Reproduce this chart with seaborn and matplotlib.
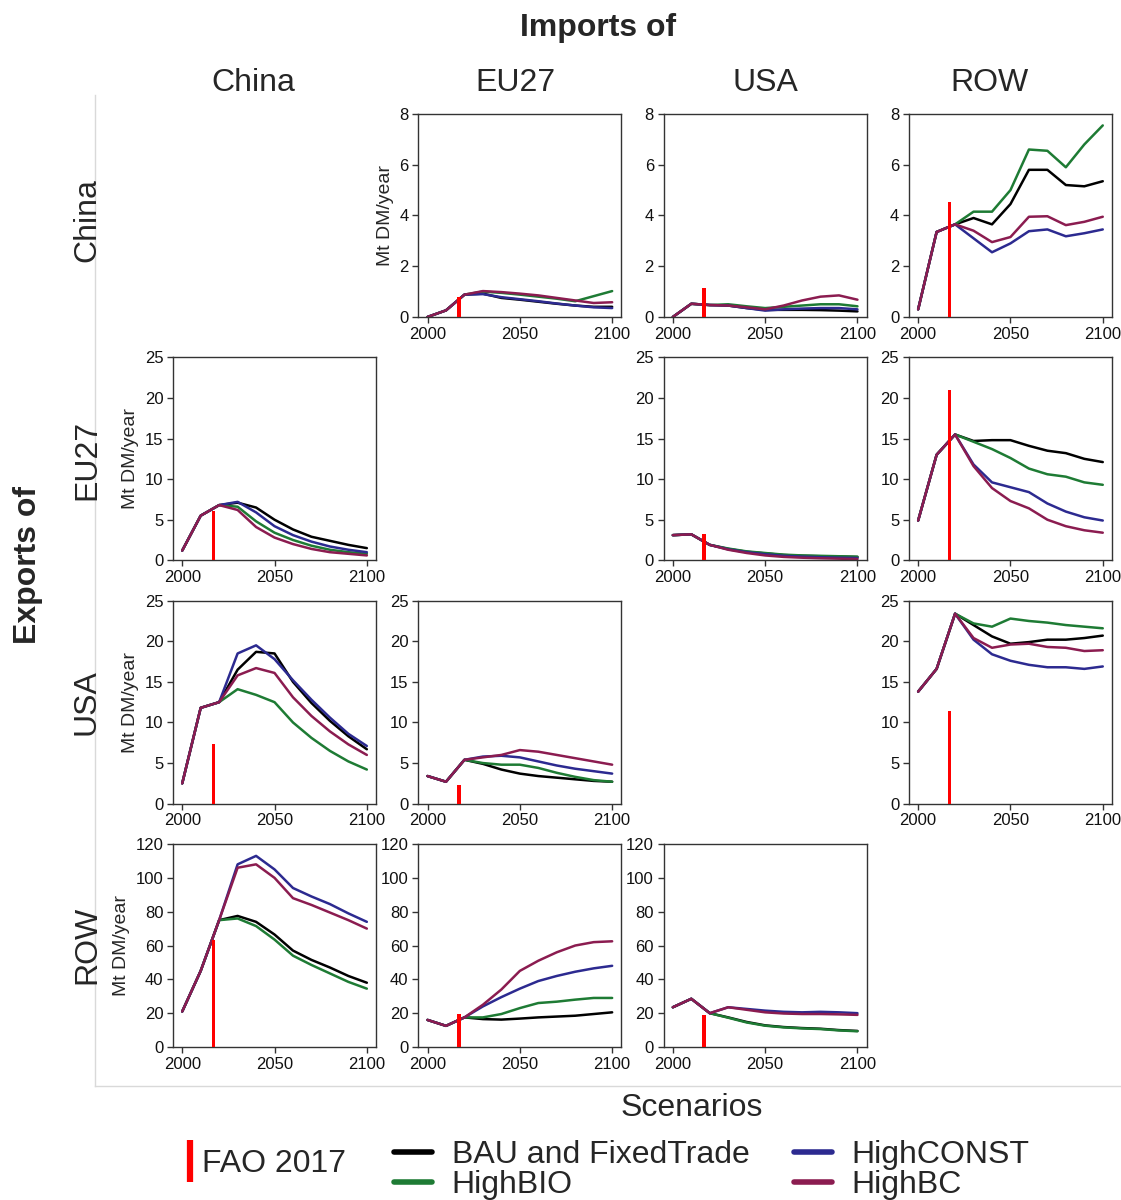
import numpy as np
import pandas as pd
import matplotlib
matplotlib.use("Agg")
import matplotlib.pyplot as plt
from matplotlib.lines import Line2D
import seaborn as sns

# ---------------- data ----------------
years = [2000, 2010, 2020, 2030, 2040, 2050, 2060, 2070, 2080, 2090, 2100]
regions = ["China", "EU27", "USA", "ROW"]
scenarios = ["BAU and FixedTrade", "HighBIO", "HighCONST", "HighBC"]
colors = ["#000000", "#1e7b34", "#2c2a90", "#8b1c50"]
fao_year = 2017

# keys: (exporter, importer)
CHN_EU27 = {
    "BAU and FixedTrade": [0, 0.26, 0.88, 0.92, 0.75, 0.68, 0.60, 0.52, 0.45, 0.40, 0.40],
    "HighBIO":            [0, 0.26, 0.88, 1.00, 0.95, 0.88, 0.80, 0.72, 0.62, 0.82, 1.02],
    "HighCONST":          [0, 0.26, 0.88, 0.90, 0.78, 0.70, 0.62, 0.53, 0.45, 0.38, 0.35],
    "HighBC":             [0, 0.26, 0.88, 1.02, 0.98, 0.92, 0.85, 0.75, 0.65, 0.55, 0.58],
}
CHN_USA = {
    "BAU and FixedTrade": [0, 0.52, 0.47, 0.45, 0.35, 0.28, 0.28, 0.28, 0.27, 0.25, 0.22],
    "HighBIO":            [0, 0.52, 0.47, 0.50, 0.42, 0.35, 0.40, 0.45, 0.50, 0.50, 0.42],
    "HighCONST":          [0, 0.52, 0.47, 0.45, 0.35, 0.25, 0.30, 0.33, 0.35, 0.35, 0.30],
    "HighBC":             [0, 0.52, 0.47, 0.45, 0.38, 0.30, 0.45, 0.65, 0.80, 0.85, 0.68],
}
CHN_ROW = {
    "BAU and FixedTrade": [0.3, 3.35, 3.65, 3.90, 3.65, 4.45, 5.80, 5.80, 5.20, 5.15, 5.35],
    "HighBIO":            [0.3, 3.35, 3.65, 4.15, 4.15, 5.00, 6.60, 6.55, 5.90, 6.80, 7.55],
    "HighCONST":          [0.3, 3.35, 3.65, 3.10, 2.55, 2.90, 3.38, 3.45, 3.18, 3.30, 3.45],
    "HighBC":             [0.3, 3.35, 3.65, 3.40, 2.95, 3.15, 3.95, 3.97, 3.62, 3.75, 3.95],
}
EU27_CHN = {
    "BAU and FixedTrade": [1.2, 5.5, 6.8, 7.1, 6.5, 5.0, 3.8, 2.9, 2.4, 1.9, 1.5],
    "HighBIO":            [1.2, 5.5, 6.8, 6.6, 4.8, 3.4, 2.5, 1.8, 1.3, 1.0, 0.8],
    "HighCONST":          [1.2, 5.5, 6.8, 7.2, 5.9, 4.2, 3.1, 2.3, 1.7, 1.3, 1.0],
    "HighBC":             [1.2, 5.5, 6.8, 6.2, 4.1, 2.8, 2.0, 1.4, 1.0, 0.8, 0.6],
}
EU27_USA = {
    "BAU and FixedTrade": [3.1, 3.2, 1.9, 1.4, 1.05, 0.85, 0.65, 0.55, 0.50, 0.45, 0.40],
    "HighBIO":            [3.1, 3.2, 1.9, 1.45, 1.1, 0.9, 0.70, 0.60, 0.55, 0.50, 0.45],
    "HighCONST":          [3.1, 3.2, 1.9, 1.35, 1.0, 0.75, 0.55, 0.45, 0.38, 0.32, 0.28],
    "HighBC":             [3.1, 3.2, 1.9, 1.30, 0.9, 0.60, 0.42, 0.32, 0.25, 0.20, 0.15],
}
EU27_ROW = {
    "BAU and FixedTrade": [4.9, 13.0, 15.5, 14.7, 14.8, 14.8, 14.1, 13.5, 13.2, 12.5, 12.1],
    "HighBIO":            [4.9, 13.0, 15.5, 14.6, 13.7, 12.6, 11.3, 10.6, 10.3, 9.6, 9.3],
    "HighCONST":          [4.9, 13.0, 15.5, 11.8, 9.6, 9.0, 8.4, 7.0, 6.0, 5.3, 4.9],
    "HighBC":             [4.9, 13.0, 15.5, 11.6, 8.9, 7.3, 6.4, 5.0, 4.2, 3.7, 3.4],
}
USA_CHN = {
    "BAU and FixedTrade": [2.5, 11.8, 12.5, 16.5, 18.7, 18.5, 15.0, 12.4, 10.2, 8.3, 6.7],
    "HighBIO":            [2.5, 11.8, 12.5, 14.1, 13.4, 12.5, 10.0, 8.1, 6.5, 5.2, 4.2],
    "HighCONST":          [2.5, 11.8, 12.5, 18.5, 19.5, 17.8, 15.2, 12.8, 10.6, 8.6, 7.1],
    "HighBC":             [2.5, 11.8, 12.5, 15.8, 16.7, 16.1, 13.1, 10.8, 8.9, 7.3, 6.0],
}
USA_EU27 = {
    "BAU and FixedTrade": [3.4, 2.7, 5.4, 4.9, 4.2, 3.7, 3.4, 3.2, 3.0, 2.8, 2.7],
    "HighBIO":            [3.4, 2.7, 5.4, 5.0, 4.8, 4.8, 4.4, 3.8, 3.3, 2.9, 2.7],
    "HighCONST":          [3.4, 2.7, 5.4, 5.8, 5.9, 5.7, 5.2, 4.7, 4.3, 4.0, 3.7],
    "HighBC":             [3.4, 2.7, 5.4, 5.7, 6.0, 6.6, 6.4, 6.0, 5.6, 5.2, 4.8],
}
USA_ROW = {
    "BAU and FixedTrade": [13.8, 16.6, 23.4, 22.0, 20.6, 19.7, 19.9, 20.2, 20.2, 20.4, 20.7],
    "HighBIO":            [13.8, 16.6, 23.4, 22.2, 21.8, 22.8, 22.5, 22.3, 22.0, 21.8, 21.6],
    "HighCONST":          [13.8, 16.6, 23.4, 20.2, 18.4, 17.6, 17.1, 16.8, 16.8, 16.6, 16.9],
    "HighBC":             [13.8, 16.6, 23.4, 20.4, 19.2, 19.6, 19.7, 19.3, 19.2, 18.8, 18.9],
}
ROW_CHN = {
    "BAU and FixedTrade": [21, 45, 75, 77.5, 74, 66.5, 57, 51.5, 47, 42, 38],
    "HighBIO":            [21, 45, 75, 76, 71.5, 63.5, 54, 48.5, 43.5, 38.5, 34.5],
    "HighCONST":          [21, 45, 75, 108, 113, 105, 94, 89, 84.5, 79, 74],
    "HighBC":             [21, 45, 75, 106, 108, 100, 88, 84, 79.5, 75, 70],
}
ROW_EU27 = {
    "BAU and FixedTrade": [16, 12.5, 17.5, 16.5, 16.2, 16.8, 17.5, 18, 18.5, 19.5, 20.5],
    "HighBIO":            [16, 12.5, 17.5, 17.5, 19.5, 23, 26, 26.8, 28, 29, 29],
    "HighCONST":          [16, 12.5, 17.5, 24, 29.5, 34.5, 39, 42, 44.5, 46.5, 48],
    "HighBC":             [16, 12.5, 17.5, 25, 34, 45, 51, 56, 60, 62, 62.5],
}
ROW_USA = {
    "BAU and FixedTrade": [23.5, 28.5, 20, 17.5, 14.8, 12.8, 11.8, 11.2, 10.8, 10.0, 9.5],
    "HighBIO":            [23.5, 28.5, 20, 17.3, 14.5, 12.6, 11.6, 11.0, 10.6, 9.8, 9.3],
    "HighCONST":          [23.5, 28.5, 20, 23.5, 22.5, 21.5, 20.8, 20.5, 20.8, 20.5, 20.0],
    "HighBC":             [23.5, 28.5, 20, 23.5, 22.0, 20.5, 19.8, 19.5, 19.5, 19.3, 19.0],
}
panels = {
    ("China", "EU27"): CHN_EU27, ("China", "USA"): CHN_USA, ("China", "ROW"): CHN_ROW,
    ("EU27", "China"): EU27_CHN, ("EU27", "USA"): EU27_USA, ("EU27", "ROW"): EU27_ROW,
    ("USA", "China"): USA_CHN, ("USA", "EU27"): USA_EU27, ("USA", "ROW"): USA_ROW,
    ("ROW", "China"): ROW_CHN, ("ROW", "EU27"): ROW_EU27, ("ROW", "USA"): ROW_USA,
}
fao_2017 = {
    ("China", "EU27"): 0.8, ("China", "USA"): 1.15, ("China", "ROW"): 4.55,
    ("EU27", "China"): 6.1, ("EU27", "USA"): 3.3, ("EU27", "ROW"): 21.0,
    ("USA", "China"): 7.4, ("USA", "EU27"): 2.3, ("USA", "ROW"): 11.4,
    ("ROW", "China"): 63.5, ("ROW", "EU27"): 19.5, ("ROW", "USA"): 18.8,
}
row_ylim = [8, 25, 25, 120]
row_yticks = [[0, 2, 4, 6, 8], [0, 5, 10, 15, 20, 25], [0, 5, 10, 15, 20, 25],
              [0, 20, 40, 60, 80, 100, 120]]

# ---------------- style ----------------
sns.set_style("ticks")
plt.rcParams["font.family"] = ["Liberation Sans", "DejaVu Sans"]
palette = dict(zip(scenarios, colors))
edge = "#333333"

W, H = 1121, 1200
fig, axes = plt.subplots(4, 4, figsize=(W / 100, H / 100), dpi=100)
plt.subplots_adjust(left=173 / W, right=1112 / W, top=1 - 114 / H, bottom=1 - 1047 / H,
                    wspace=0.208, hspace=0.199)

# light background frame
bg = fig.add_axes([95 / W, 1 - 1086 / H, 1 - 95 / W, (1086 - 95) / H], zorder=-5)
bg.patch.set_alpha(0)
bg.set_xticks([]); bg.set_yticks([])
for s in ["top", "right"]:
    bg.spines[s].set_visible(False)
for s in ["left", "bottom"]:
    bg.spines[s].set_color("#d9d9d9"); bg.spines[s].set_linewidth(1.0)

for i, exp in enumerate(regions):
    first = True
    for j, imp in enumerate(regions):
        ax = axes[i, j]
        if exp == imp:
            ax.axis("off")
            continue
        d = panels[(exp, imp)]
        df = pd.DataFrame({
            "Year": np.tile(years, len(scenarios)),
            "Value": np.concatenate([d[s] for s in scenarios]),
            "Scenario": np.repeat(scenarios, len(years)),
        })
        sns.lineplot(data=df, x="Year", y="Value", hue="Scenario", hue_order=scenarios,
                     palette=palette, ax=ax, linewidth=1.8, legend=False)
        ax.bar([fao_year], [fao_2017[(exp, imp)]], width=2.0, color="red",
               linewidth=0, zorder=4)
        ax.set_xlim(1995, 2105)
        ax.set_ylim(0, row_ylim[i])
        ax.set_xticks([2000, 2050, 2100])
        ax.set_yticks(row_yticks[i])
        ax.set_xlabel("")
        ax.set_ylabel("Mt DM/year" if first else "", fontsize=14, labelpad=4)
        first = False
        ax.tick_params(labelsize=12, length=4, width=1, color=edge, labelcolor="#111111", pad=3)
        for s in ax.spines.values():
            s.set_color(edge); s.set_linewidth(1.0); s.set_visible(True)

# titles
fig.text(598 / W, 1 - 28 / H, "Imports of", ha="center", va="center",
         fontsize=23, fontweight="bold")
for x, name in zip([253, 515, 765, 990], regions):
    fig.text(x / W, 1 - 83 / H, name, ha="center", va="center", fontsize=23)
for y, name in zip([220, 460, 702, 945], regions):
    fig.text(87 / W, 1 - y / H, name, ha="center", va="center", fontsize=23, rotation=90)
fig.text(28 / W, 1 - 565 / H, "Exports of", ha="center", va="center",
         fontsize=23, fontweight="bold", rotation=90)
fig.text(692 / W, 1 - 1108 / H, "Scenarios", ha="center", va="center", fontsize=23)

# legends
fao_handle = Line2D([], [], color="red", marker="|", linestyle="none",
                    markersize=30, markeredgewidth=4.5)
leg1 = fig.legend([fao_handle], ["FAO 2017"], loc="center left",
                  bbox_to_anchor=(180 / W, 1 - 1164 / H), frameon=False, fontsize=23,
                  handlelength=0.6, handletextpad=0.1, borderpad=0, borderaxespad=0)
line_handles = [Line2D([], [], color=c, linewidth=4) for c in colors]
leg2 = fig.legend(line_handles, scenarios,
                  loc="upper left", bbox_to_anchor=(394 / W, 1 - 1140 / H), ncol=2,
                  frameon=False, fontsize=23, handlelength=1.2, handletextpad=0.6,
                  columnspacing=1.4, labelspacing=0.0, borderpad=0, borderaxespad=0)

fig.savefig("out.png", dpi=100)
